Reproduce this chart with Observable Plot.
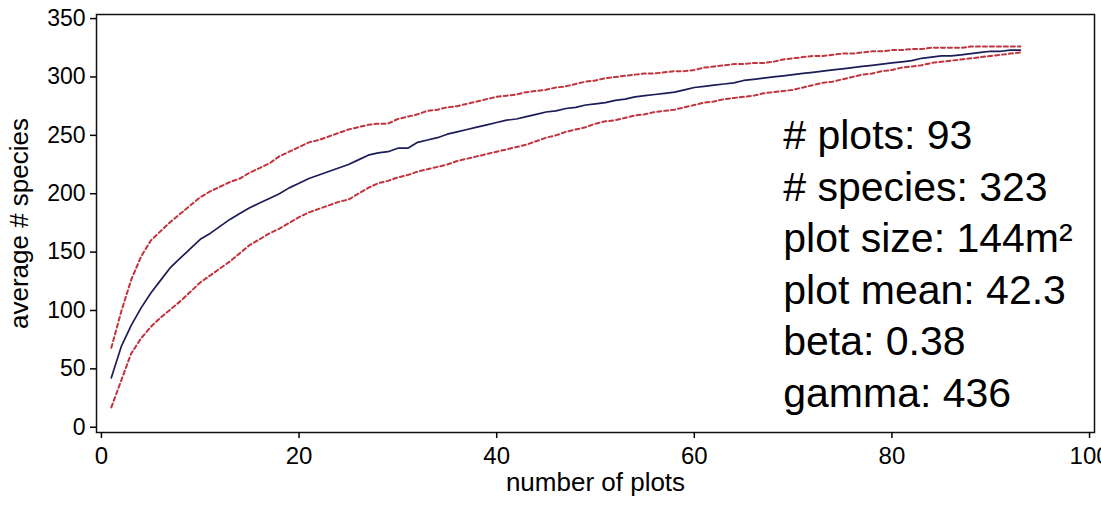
<!DOCTYPE html>
<html>
<head>
<meta charset="utf-8">
<script src="https://cdn.jsdelivr.net/npm/d3@7"></script>
<script src="https://cdn.jsdelivr.net/npm/@observablehq/plot@0.6"></script>
<style>
  html, body { margin: 0; padding: 0; background: #fff; }
  #chart svg { display: block; }
</style>
</head>
<body>
<div id="chart"></div>
<script>
// Species accumulation: average number of species vs. number of plots sampled,
// with the upper and lower envelope of the randomised accumulation.
const meanSpecies = [
  42.3, 69, 87, 102, 115, 126, 137, 145, 153, 161,
  166, 172, 178, 183, 188, 192, 196, 200, 205, 209,
  213, 216, 219, 222, 225, 229, 233, 235, 236, 239,
  239, 244, 246, 248, 251, 253, 255, 257, 259, 261,
  263, 264, 266, 268, 270, 271, 273, 274, 276, 277,
  278, 280, 281, 283, 284, 285, 286, 287, 289, 291,
  292, 293, 294, 295, 297, 298, 299, 300, 301, 302,
  303, 304, 305, 306, 307, 308, 309, 310, 311, 312,
  313, 314, 316, 317, 318, 318, 319, 320, 321, 322,
  322, 323, 323
];
const upperBound = [
  68, 99, 126, 146, 160, 168, 176, 183, 190, 197,
  202, 206, 210, 213, 218, 222, 226, 232, 236, 240,
  244, 246, 249, 252, 255, 257, 259, 260, 260, 264,
  266, 268, 271, 272, 274, 275, 277, 279, 281, 283,
  284, 285, 287, 288, 289, 291, 292, 294, 296, 297,
  299, 300, 301, 302, 303, 303, 304, 305, 305, 306,
  308, 309, 310, 311, 311, 312, 312, 313, 315, 316,
  317, 318, 318, 319, 320, 320, 321, 322, 322, 323,
  323, 324, 324, 325, 325, 325, 325, 326, 326, 326,
  326, 326, 326
];
const lowerBound = [
  17, 40, 63, 76, 86, 94, 101, 108, 116, 124,
  130, 136, 142, 149, 156, 161, 166, 170, 175, 180,
  184, 187, 190, 193, 195, 200, 205, 209, 211, 214,
  216, 219, 221, 223, 225, 228, 230, 232, 234, 236,
  238, 240, 242, 245, 248, 250, 253, 255, 257, 260,
  262, 263, 265, 267, 268, 270, 271, 272, 274, 276,
  278, 279, 281, 282, 283, 284, 286, 287, 288, 289,
  291, 293, 295, 296, 298, 300, 302, 303, 305, 306,
  308, 309, 310, 312, 313, 314, 315, 316, 317, 318,
  319, 320, 321
];
const xTicks = [0, 20, 40, 60, 80, 100];
const yTicks = [0, 50, 100, 150, 200, 250, 300, 350];
const statLines = [
  "# plots: 93",
  "# species: 323",
  "plot size: 144m²",
  "plot mean: 42.3",
  "beta: 0.38",
  "gamma: 436"
];

const rows = meanSpecies.map((m, i) => ({
  n: i + 1,
  mean: m,
  upper: upperBound[i],
  lower: lowerBound[i]
}));

const navy = "#1c1c58";
const red = "#c2343c";
const font = "'Liberation Sans', Arial, Helvetica, sans-serif";

const chart = Plot.plot({
  width: 1101,
  height: 505,
  marginLeft: 96,
  marginRight: 7,
  marginTop: 14,
  marginBottom: 73,
  style: { fontFamily: font, fontSize: "23px", color: "#000", background: "#fff" },
  x: { domain: [-0.5, 100.5] },
  y: { domain: [-4.5, 353.5] },
  marks: [
    Plot.lineY(rows, { x: "n", y: "upper", stroke: red, strokeWidth: 2, strokeDasharray: "4,3" }),
    Plot.lineY(rows, { x: "n", y: "lower", stroke: red, strokeWidth: 2, strokeDasharray: "4,3" }),
    Plot.lineY(rows, { x: "n", y: "mean", stroke: navy, strokeWidth: 1.7 }),
    Plot.frame({ stroke: "#111", strokeWidth: 1.5 }),
    Plot.axisX({ ticks: xTicks, tickSize: 6, tickPadding: 8, fontSize: 24, label: null, strokeWidth: 1.5 }),
    Plot.axisY({ ticks: yTicks, tickSize: 6, tickPadding: 5, fontSize: 23, label: null, strokeWidth: 1.5 }),
    Plot.text(["number of plots"], { frameAnchor: "bottom", dy: 58, fontSize: 26, textAnchor: "middle", fill: "#000" }),
    Plot.text(["average # species"], { frameAnchor: "left", dx: -77, rotate: -90, fontSize: 26, textAnchor: "middle", fill: "#000" }),
    Plot.text([statLines.join("\n")], {
      x: 69, y: 142, textAnchor: "start", lineAnchor: "middle",
      lineHeight: 1.256, fontSize: 41, fill: "#000"
    })
  ]
});

document.getElementById("chart").append(chart);
</script>
</body>
</html>
